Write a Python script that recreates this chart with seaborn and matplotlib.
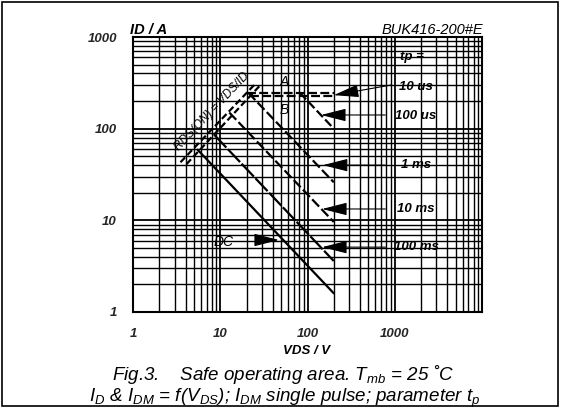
import numpy as np
import pandas as pd
import matplotlib
matplotlib.use("Agg")
import matplotlib.pyplot as plt
import seaborn as sns
from matplotlib.patches import Rectangle
from matplotlib.patches import ArrowStyle

# ---------------- data ----------------
x_ticks = [1, 10, 100, 1000]
x_tick_labels = ["1", "10", "100", "1000"]
y_ticks = [1, 10, 100, 1000]
y_tick_labels = ["1", "10", "100", "1000"]

rds_a_vds = [3.5, 25.5]
rds_a_id = [43, 312]
rds_b_vds = [4.1, 28.0]
rds_b_id = [41, 290]

us10_a_vds = [20.0, 200.0]
us10_a_id = [246, 246]
us10_b_vds = [22.0, 200.0]
us10_b_id = [228, 228]

us100_vds = [82.0, 200.0]
us100_id = [246, 100]

ms1_vds = [21.0, 200.0]
ms1_id = [246, 26]

ms10_vds = [12.7, 200.0]
ms10_id = [150, 9.6]

ms100_vds = [8.5, 200.0]
ms100_id = [86, 3.6]

dc_vds = [5.5, 200.0]
dc_id = [59, 1.6]

curves = {
    "rds_a": (rds_a_vds, rds_a_id),
    "rds_b": (rds_b_vds, rds_b_id),
    "10us_a": (us10_a_vds, us10_a_id),
    "10us_b": (us10_b_vds, us10_b_id),
    "100us": (us100_vds, us100_id),
    "1ms": (ms1_vds, ms1_id),
    "10ms": (ms10_vds, ms10_id),
    "100ms": (ms100_vds, ms100_id),
    "DC": (dc_vds, dc_id),
}

rows = []
for name, (xs, ys) in curves.items():
    for i, (xv, yv) in enumerate(zip(xs, ys)):
        rows.append({"curve": name, "vds": xv, "id": yv, "order": i})
df = pd.DataFrame(rows)

dash_styles = {
    "rds_a": (3.0, 1.5),
    "rds_b": (3.0, 1.5),
    "10us_a": (4.0, 1.5),
    "10us_b": (4.0, 1.5),
    "100us": (4.0, 1.5),
    "1ms": (4.5, 1.5),
    "10ms": (4.5, 1.5),
    "100ms": (8.0, 1.0),
    "DC": "",
}

# ---------------- style ----------------
sns.set_theme(style="white")
plt.rcParams["font.family"] = ["Liberation Sans", "DejaVu Sans"]
plt.rcParams["mathtext.fontset"] = "custom"
plt.rcParams["mathtext.rm"] = "Liberation Sans:italic"
plt.rcParams["mathtext.it"] = "Liberation Sans:italic"
plt.rcParams["mathtext.bf"] = "Liberation Sans:italic:bold"

fig = plt.figure(figsize=(5.63, 4.11), dpi=100)
ax = fig.add_axes([133 / 563, 1 - 312 / 411, (482 - 133) / 563, (312 - 37) / 411])

sns.lineplot(
    data=df, x="vds", y="id", hue="curve", style="curve",
    palette={k: "black" for k in curves}, dashes=dash_styles,
    sort=False, estimator=None, legend=False, ax=ax, linewidth=1.6,
)

ax.set_xscale("log")
ax.set_yscale("log")
ax.set_xlim(1, 1e4)
ax.set_ylim(1, 1000)

ax.grid(which="major", color="black", lw=1.3)
ax.grid(which="minor", color="black", lw=1.0)
ax.set_axisbelow(True)
for s in ax.spines.values():
    s.set_color("black")
    s.set_linewidth(1.5)

ax.set_xticks(x_ticks)
ax.set_xticklabels(x_tick_labels)
ax.set_yticks(y_ticks)
ax.set_yticklabels(y_tick_labels)
ax.tick_params(which="major", direction="out", length=5, width=1.2, color="black",
               labelsize=9.5, pad=6.5)
ax.tick_params(which="minor", length=0)
for lab in ax.get_xticklabels() + ax.get_yticklabels():
    lab.set_fontstyle("italic")
    lab.set_fontweight("bold")
ax.set_xlabel("")
ax.set_ylabel("")

bi = dict(fontstyle="italic", fontweight="bold", color="black")
it = dict(fontstyle="italic", color="black")

fig.text(130 / 563, 1 - 30 / 411, "ID / A", fontsize=10.5, ha="left", va="center", **bi)
fig.text(483 / 563, 1 - 30 / 411, "BUK416-200#E", fontsize=10.5, ha="right", va="center", **it)
fig.text(307 / 563, 1 - 351 / 411, "VDS / V", fontsize=9.5, ha="center", va="center", **bi)

fig.text(283 / 563, 1 - 374 / 411, "Fig.3.    Safe operating area. T$_{mb}$ = 25 ˚C",
         fontsize=13.5, ha="center", va="center", **it)
fig.text(285 / 563, 1 - 398 / 411,
         "I$_{D}$ & I$_{DM}$ = f(V$_{DS}$); I$_{DM}$ single pulse; parameter t$_{p}$",
         fontsize=13.5, ha="center", va="center", **it)

# labels inside plot
ax.text(1560, 600, "tp =", fontsize=9.5, ha="center", va="center", **bi)
ax.text(54, 325, "A", fontsize=10, ha="center", va="center", **it)
ax.text(54, 160, "B", fontsize=10, ha="center", va="center", **it)
ax.text(8.1, 152, "RDS(ON) = VDS/ID", fontsize=8.5, rotation=46.5,
        ha="center", va="center", **it)
ax.text(10.9, 5.8, "DC", fontsize=10, ha="center", va="center", **it)

label_x = 1750
ax.text(label_x, 284, "10 us", fontsize=9.5, ha="center", va="center", **bi)
ax.text(label_x, 138, "100 us", fontsize=9.5, ha="center", va="center", **bi)
ax.text(label_x, 40, "1 ms", fontsize=9.5, ha="center", va="center", **bi)
ax.text(label_x, 13.3, "10 ms", fontsize=9.5, ha="center", va="center", **bi)
ax.text(label_x, 5.1, "100 ms", fontsize=9.5, ha="center", va="center", **bi)

head = ArrowStyle("-|>", head_length=1.3, head_width=0.33)
ap = dict(arrowstyle=head, color="black", lw=0.8, mutation_scale=12, shrinkA=0, shrinkB=0)
ax.annotate("", xy=(200, 232), xytext=(920, 300), arrowprops=ap)
ax.annotate("", xy=(143, 141), xytext=(780, 141), arrowprops=ap)
ax.annotate("", xy=(150, 40), xytext=(780, 40), arrowprops=ap)
ax.annotate("", xy=(147, 13.3), xytext=(780, 13.3), arrowprops=ap)
ax.annotate("", xy=(147, 5.1), xytext=(780, 5.1), arrowprops=ap)
ax.annotate("", xy=(47, 6.1), xytext=(27.5, 6.1), arrowprops=ap)

fig.patches.append(Rectangle((0.004, 0.012), 0.988, 0.984, transform=fig.transFigure,
                             fill=False, edgecolor="black", lw=1.2))

fig.savefig("out.png", dpi=100)
